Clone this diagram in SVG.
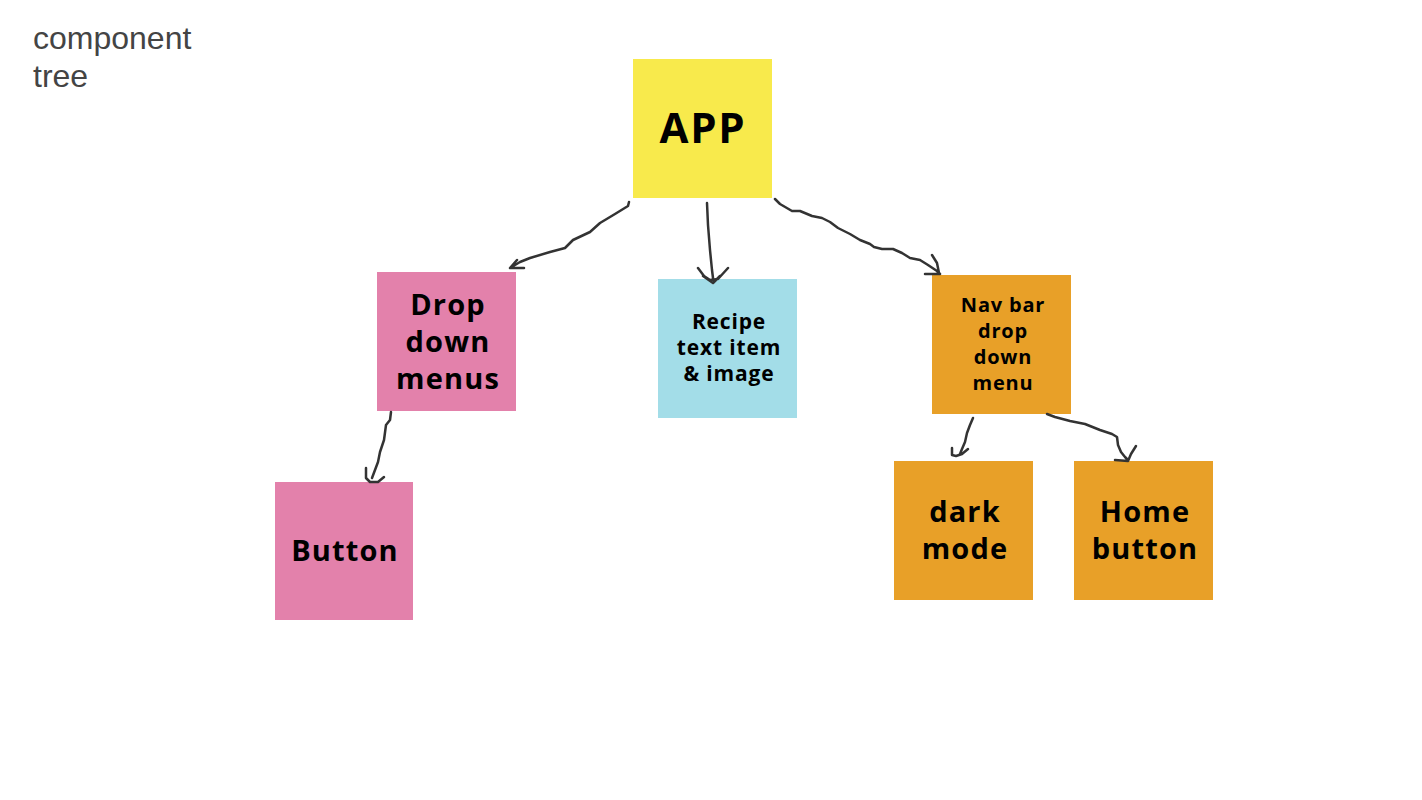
<svg xmlns="http://www.w3.org/2000/svg" width="1422" height="800" viewBox="0 0 1422 800">
<style>
.note{stroke:none}
.t{font-family:"Open Sans","Lato",sans-serif;font-weight:700;fill:#000;text-anchor:middle;letter-spacing:0.04em}
.c{fill:none;stroke:#333;stroke-width:2.5;stroke-linecap:round;stroke-linejoin:round}
.title{font-family:"Liberation Sans",Arial,sans-serif;font-size:32px;fill:#444}
</style>
<rect width="1422" height="800" fill="#fff"/>
<g id="title"><text class="title" x="33" y="49">component</text><text class="title" x="33" y="87">tree</text></g>
<g id="app"><rect class="note" x="633" y="59" width="139" height="139" fill="#f8ea4c"/><text class="t" x="703" y="143" font-size="42">APP</text></g>
<g id="dropdown"><rect class="note" x="377" y="272" width="139" height="139" fill="#e381ab"/><text class="t" font-size="29"><tspan x="448" y="315">Drop</tspan><tspan x="448" y="352">down</tspan><tspan x="448" y="389">menus</tspan></text></g>
<g id="recipe"><rect class="note" x="658" y="279" width="139" height="139" fill="#a3dde8"/><text class="t" font-size="21"><tspan x="729" y="329">Recipe</tspan><tspan x="729" y="355">text item</tspan><tspan x="729" y="381">&amp; image</tspan></text></g>
<g id="navbar"><rect class="note" x="932" y="275" width="139" height="139" fill="#e8a028"/><text class="t" font-size="20"><tspan x="1003" y="312">Nav bar</tspan><tspan x="1003" y="338">drop</tspan><tspan x="1003" y="364">down</tspan><tspan x="1003" y="390">menu</tspan></text></g>
<g id="button"><rect class="note" x="275" y="482" width="138" height="138" fill="#e381ab"/><text class="t" x="345" y="561" font-size="29">Button</text></g>
<g id="darkmode"><rect class="note" x="894" y="461" width="139" height="139" fill="#e8a028"/><text class="t" font-size="29"><tspan x="965" y="522">dark</tspan><tspan x="965" y="559">mode</tspan></text></g>
<g id="homebutton"><rect class="note" x="1074" y="461" width="139" height="139" fill="#e8a028"/><text class="t" font-size="29"><tspan x="1145" y="522">Home</tspan><tspan x="1145" y="559">button</tspan></text></g>
<g id="connectors">
<path class="c" d="M629,202 L628,206 L615,214 L600,223 L590,232 L573,240 L565,248 L550,252 L530,258 L520,262 L510,268 M517,260 L510,268 L524,268"/>
<path class="c" d="M707,203 L708,225 L710,250 L712,270 L713,278 M698,268 L704,276 L710,280 L718,279 L728,268 M703,276 L713,283 L720,276"/>
<path class="c" d="M775,199 L780,204 L792,211 L800,211 L812,216 L822,218 L830,222 L838,228 L850,234 L860,240 L870,244 L874,247 L882,249 L893,249 L902,253 L910,258 L920,260 L928,265 L937,271 L940,274 M932,255 L937,263 L939,273 M925,274 L940,274"/>
<path class="c" d="M391,412 L390,420 L386,425 L384,440 L380,452 L378,462 L375,470 L372,478 M366,468 L366,478 L370,482 L378,482 L384,477"/>
<path class="c" d="M973,418 L970,425 L967,433 L965,442 L962,449 L960,454 M952,448 L952,455 L956,456 L962,454 L968,449"/>
<path class="c" d="M1047,414 L1055,417 L1070,421 L1085,424 L1100,430 L1112,434 L1117,437 L1118,445 L1121,452 L1125,457 L1128,460 M1115,460 L1128,461 M1136,446 L1131,454 L1128,461"/>
</g>
</svg>
